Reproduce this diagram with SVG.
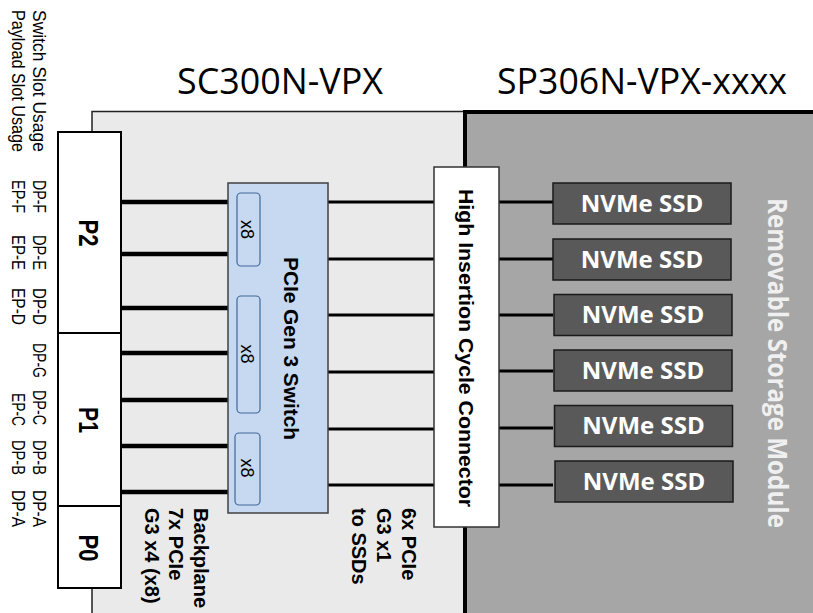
<svg xmlns="http://www.w3.org/2000/svg" width="813" height="613" viewBox="0 0 813 613">
<defs>
<style>
.title{font-family:"Open Sans","Liberation Sans",sans-serif;font-size:36px;fill:#000}
.lbl{font-family:"Liberation Sans",Arial,sans-serif;font-size:18px;fill:#000}
.plbl{font-family:"Liberation Sans",Arial,sans-serif;font-size:27px;font-weight:bold;fill:#000}
.bold{font-family:"Liberation Sans",Arial,sans-serif;font-size:20px;font-weight:bold;fill:#000}
.big{font-family:"Liberation Sans",Arial,sans-serif;font-size:21px;font-weight:bold;fill:#000}
.x8t{font-family:"Liberation Sans",Arial,sans-serif;font-size:18px;fill:#000}
.ssdt{font-family:"Open Sans","Liberation Sans",sans-serif;font-size:24px;font-weight:bold;fill:#fff}
.rsm{font-family:"Open Sans","Liberation Sans",sans-serif;font-size:26px;font-weight:bold;fill:#f0f0f0}
.thick{stroke:#000;stroke-width:4.5;fill:none}
.thin{stroke:#000;stroke-width:3;fill:none}
.ssd{fill:#595959;stroke:#1a1a1a;stroke-width:1.5}
.x8{fill:#c6d9f0;stroke:#41689c;stroke-width:1.2}
</style>
</defs>

<!-- titles -->
<text class="title" x="177" y="94" textLength="206" lengthAdjust="spacingAndGlyphs">SC300N-VPX</text>
<text class="title" x="497" y="94" textLength="290" lengthAdjust="spacingAndGlyphs">SP306N-VPX-xxxx</text>

<!-- panels -->
<g id="sc300n-panel">
<rect x="92" y="111.5" width="373" height="520" fill="#eaeaea" stroke="#222" stroke-width="1.5"/>
</g>
<g id="sp306n-panel">
<rect x="465" y="112" width="360" height="520" fill="#a6a6a6" stroke="#000" stroke-width="4"/>
</g>

<!-- left slot-usage labels -->
<g id="slot-labels">
<g transform="translate(33,10) rotate(90)"><text class="lbl" x="0" y="0" textLength="142" lengthAdjust="spacingAndGlyphs">Switch Slot Usage</text></g>
<g transform="translate(12,10) rotate(90)"><text class="lbl" x="0" y="0" textLength="142" lengthAdjust="spacingAndGlyphs">Payload Slot Usage</text></g>
<g transform="translate(33,180) rotate(90)"><text class="lbl" textLength="33" lengthAdjust="spacingAndGlyphs">DP-F</text></g>
<g transform="translate(33,235) rotate(90)"><text class="lbl" textLength="35" lengthAdjust="spacingAndGlyphs">DP-E</text></g>
<g transform="translate(33,288) rotate(90)"><text class="lbl" textLength="37" lengthAdjust="spacingAndGlyphs">DP-D</text></g>
<g transform="translate(33,343) rotate(90)"><text class="lbl" textLength="35" lengthAdjust="spacingAndGlyphs">DP-G</text></g>
<g transform="translate(33,390) rotate(90)"><text class="lbl" textLength="35" lengthAdjust="spacingAndGlyphs">DP-C</text></g>
<g transform="translate(33,440) rotate(90)"><text class="lbl" textLength="35" lengthAdjust="spacingAndGlyphs">DP-B</text></g>
<g transform="translate(33,490) rotate(90)"><text class="lbl" textLength="37" lengthAdjust="spacingAndGlyphs">DP-A</text></g>
<g transform="translate(12,180) rotate(90)"><text class="lbl" textLength="33" lengthAdjust="spacingAndGlyphs">EP-F</text></g>
<g transform="translate(12,235) rotate(90)"><text class="lbl" textLength="35" lengthAdjust="spacingAndGlyphs">EP-E</text></g>
<g transform="translate(12,288) rotate(90)"><text class="lbl" textLength="37" lengthAdjust="spacingAndGlyphs">EP-D</text></g>
<g transform="translate(12,393) rotate(90)"><text class="lbl" textLength="33" lengthAdjust="spacingAndGlyphs">EP-C</text></g>
<g transform="translate(12,440) rotate(90)"><text class="lbl" textLength="35" lengthAdjust="spacingAndGlyphs">DP-B</text></g>
<g transform="translate(12,490) rotate(90)"><text class="lbl" textLength="37" lengthAdjust="spacingAndGlyphs">DP-A</text></g>
</g>

<!-- connectors -->
<g id="connectors">
<line class="thick" x1="121" y1="202" x2="237" y2="202"/>
<line class="thick" x1="121" y1="254" x2="237" y2="254"/>
<line class="thick" x1="121" y1="308" x2="237" y2="308"/>
<line class="thick" x1="121" y1="353" x2="228" y2="353"/>
<line class="thick" x1="121" y1="400" x2="237" y2="400"/>
<line class="thick" x1="121" y1="446" x2="235" y2="446"/>
<line class="thick" x1="121" y1="492" x2="235" y2="492"/>
<line class="thin" x1="328" y1="202" x2="434" y2="202"/>
<line class="thin" x1="328" y1="259" x2="434" y2="259"/>
<line class="thin" x1="328" y1="315" x2="434" y2="315"/>
<line class="thin" x1="328" y1="372" x2="434" y2="372"/>
<line class="thin" x1="328" y1="429" x2="434" y2="429"/>
<line class="thin" x1="328" y1="485" x2="434" y2="485"/>
<line class="thin" x1="499" y1="202" x2="553" y2="202"/>
<line class="thin" x1="499" y1="259" x2="553" y2="259"/>
<line class="thin" x1="499" y1="315" x2="553" y2="315"/>
<line class="thin" x1="499" y1="371" x2="553" y2="371"/>
<line class="thin" x1="499" y1="428" x2="553" y2="428"/>
<line class="thin" x1="499" y1="485" x2="553" y2="485"/>
</g>

<!-- backplane connector P2/P1/P0 -->
<g id="vpx-connector">
<rect x="58" y="132" width="63" height="456" fill="#fff" stroke="#000" stroke-width="2"/>
<line x1="58" y1="333" x2="121" y2="333" stroke="#000" stroke-width="2"/>
<line x1="58" y1="506" x2="121" y2="506" stroke="#000" stroke-width="2"/>
<g transform="translate(79,233) rotate(90)"><text class="plbl" text-anchor="middle" textLength="27" lengthAdjust="spacingAndGlyphs">P2</text></g>
<g transform="translate(79,420) rotate(90)"><text class="plbl" text-anchor="middle" textLength="26" lengthAdjust="spacingAndGlyphs">P1</text></g>
<g transform="translate(79,548) rotate(90)"><text class="plbl" text-anchor="middle" textLength="27" lengthAdjust="spacingAndGlyphs">P0</text></g>
</g>

<!-- PCIe switch -->
<g id="pcie-switch">
<rect x="228" y="183" width="100" height="330" fill="#c6d9f0" stroke="#404040" stroke-width="1.5"/>
<rect class="x8" x="237" y="193" width="23" height="73" rx="4"/>
<rect class="x8" x="237" y="296" width="23" height="117" rx="4"/>
<rect class="x8" x="235" y="433" width="25" height="72" rx="4"/>
<g transform="translate(241,229.5) rotate(90)"><text class="x8t" text-anchor="middle">x8</text></g>
<g transform="translate(241,354) rotate(90)"><text class="x8t" text-anchor="middle">x8</text></g>
<g transform="translate(241,468) rotate(90)"><text class="x8t" text-anchor="middle">x8</text></g>
<g transform="translate(284,348.5) rotate(90)"><text class="big" text-anchor="middle" textLength="183" lengthAdjust="spacingAndGlyphs">PCIe Gen 3 Switch</text></g>
</g>

<!-- High insertion cycle connector -->
<g id="hic-connector">
<rect x="434" y="167" width="65" height="360" fill="#fff" stroke="#333" stroke-width="1.5"/>
<g transform="translate(459,348) rotate(90)"><text class="big" text-anchor="middle" textLength="318" lengthAdjust="spacingAndGlyphs">High Insertion Cycle Connector</text></g>
</g>

<!-- SSDs -->
<g id="ssd1"><rect class="ssd" x="553" y="183" width="178" height="41"/><text class="ssdt" x="642" y="211.5" text-anchor="middle">NVMe SSD</text></g>
<g id="ssd2"><rect class="ssd" x="553" y="239" width="178" height="41"/><text class="ssdt" x="642" y="267.5" text-anchor="middle">NVMe SSD</text></g>
<g id="ssd3"><rect class="ssd" x="554" y="294.5" width="178" height="41"/><text class="ssdt" x="643" y="323" text-anchor="middle">NVMe SSD</text></g>
<g id="ssd4"><rect class="ssd" x="554" y="350" width="178" height="41"/><text class="ssdt" x="643" y="378.5" text-anchor="middle">NVMe SSD</text></g>
<g id="ssd5"><rect class="ssd" x="554.5" y="405.5" width="178" height="41"/><text class="ssdt" x="643.5" y="434" text-anchor="middle">NVMe SSD</text></g>
<g id="ssd6"><rect class="ssd" x="555" y="461" width="178" height="41"/><text class="ssdt" x="644" y="489.5" text-anchor="middle">NVMe SSD</text></g>

<g id="storage-module-label" transform="translate(768,363) rotate(90)"><text class="rsm" text-anchor="middle" textLength="330" lengthAdjust="spacingAndGlyphs">Removable Storage Module</text></g>

<!-- annotations -->
<g id="backplane-label">
<g transform="translate(194,508) rotate(90)"><text class="bold">Backplane</text></g>
<g transform="translate(169,508) rotate(90)"><text class="bold">7x PCIe</text></g>
<g transform="translate(145,508) rotate(90)"><text class="bold">G3 x4 (x8)</text></g>
</g>
<g id="ssd-link-label">
<g transform="translate(402,508) rotate(90)"><text class="bold">6x PCIe</text></g>
<g transform="translate(377,508) rotate(90)"><text class="bold">G3 x1</text></g>
<g transform="translate(352,508) rotate(90)"><text class="bold">to SSDs</text></g>
</g>
</svg>
